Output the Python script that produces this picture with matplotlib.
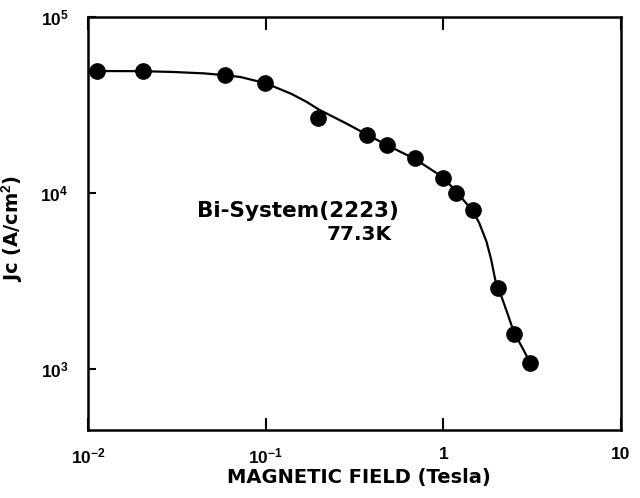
import matplotlib
matplotlib.use('Agg')
import matplotlib.pyplot as plt
from matplotlib.ticker import FixedLocator, NullLocator

# measured points (Tesla, A/cm^2)
field = [0.0112, 0.0204, 0.059, 0.099, 0.196, 0.37, 0.48, 0.69, 0.99, 1.18, 1.46, 2.04, 2.5, 3.08]
jc = [49300, 49000, 46900, 42200, 26700, 21400, 18700, 15800, 12200, 10000, 8000, 2880, 1580, 1080]

# hand-drawn guide curve
curve_field = [0.0112, 0.02, 0.03, 0.045, 0.06, 0.072, 0.1, 0.14, 0.17, 0.2, 0.28, 0.37, 0.48, 0.69, 0.99, 1.18, 1.46, 1.59, 1.75, 1.86, 1.96, 2.04, 2.3, 2.5, 2.8, 3.08]
curve_jc = [49300, 49200, 48700, 47800, 46600, 45600, 42000, 36500, 32900, 29700, 25000, 21500, 18700, 15600, 12300, 10200, 7900, 6760, 5270, 4160, 3200, 2880, 2050, 1600, 1300, 1080]

xticks = [0.01, 0.1, 1, 10]
xticklabels = ['10$^{-2}$', '10$^{-1}$', '1', '10']
yticks = [1e3, 1e4, 1e5]
yticklabels = ['10$^3$', '10$^4$', '10$^5$']

plt.rcParams['font.family'] = ['Liberation Sans', 'DejaVu Sans']
plt.rcParams['mathtext.fontset'] = 'custom'
plt.rcParams['mathtext.rm'] = 'Liberation Sans:bold'
plt.rcParams['mathtext.it'] = 'Liberation Sans:bold'

fig = plt.figure(figsize=(6.4, 4.98), dpi=100)
ax = fig.add_axes([0.1375, 0.1365, 0.8328, 0.8293])

ax.plot(curve_field, curve_jc, color='black', lw=1.6)
ax.plot(field, jc, 'o', color='black', markersize=11)

ax.set_xscale('log')
ax.set_yscale('log')
ax.set_xlim(0.01, 10)
ax.set_ylim(447, 1e5)

ax.xaxis.set_major_locator(FixedLocator(xticks))
ax.set_xticklabels(xticklabels)
ax.xaxis.set_minor_locator(NullLocator())
ax.yaxis.set_major_locator(FixedLocator(yticks))
ax.set_yticklabels(yticklabels)
ax.yaxis.set_minor_locator(NullLocator())

ax.tick_params(which='major', direction='in', length=9, width=1.5, top=True,
               labelsize=12.5, pad=12)
ax.tick_params(axis='y', length=6, pad=14)
for t in ax.get_xticklabels() + ax.get_yticklabels():
    t.set_fontweight('bold')
for s in ax.spines.values():
    s.set_linewidth(1.8)

ax.set_xlabel('MAGNETIC FIELD (Tesla)', fontsize=14, fontweight='bold',
              family='DejaVu Sans')
ax.xaxis.set_label_coords(0.508, -0.093)
ax.set_ylabel('Jc (A/cm$^2$)', fontsize=14, fontweight='bold',
              family='DejaVu Sans')
ax.yaxis.set_label_coords(-0.118, 0.489)

ax.text(0.151, 7910, 'Bi-System(2223)', fontsize=15.5, fontweight='bold',
        family='DejaVu Sans', ha='center', va='center')
ax.text(0.337, 5770, '77.3K', fontsize=14.5, fontweight='bold',
        family='DejaVu Sans', ha='center', va='center')

fig.savefig('out.png', dpi=100)
